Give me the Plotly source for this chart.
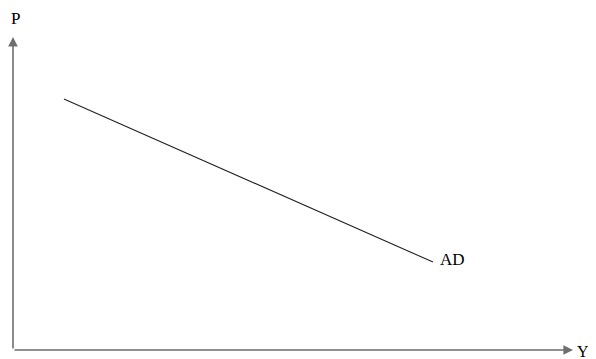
import plotly.graph_objects as go

# aggregate demand curve (output Y, price level P)
ad_y = [0.91, 7.5]
ad_p = [8.02, 2.81]
curve_label = "AD"
x_label = "Y"
y_label = "P"

serif = "Liberation Serif, Times New Roman, serif"
axis_col = "#6e6e6e"

fig = go.Figure()
fig.add_trace(go.Scatter(x=ad_y, y=ad_p, mode="lines",
                         line=dict(color="#222222", width=1.1),
                         hoverinfo="skip", showlegend=False))

# axes with arrowheads
fig.add_annotation(x=10, y=0, ax=0, ay=0, xref="x", yref="y", axref="x", ayref="y",
                   showarrow=True, arrowhead=2, arrowsize=1.2, arrowwidth=1.6,
                   arrowcolor=axis_col, text="")
fig.add_annotation(x=0, y=10, ax=0, ay=0, xref="x", yref="y", axref="x", ayref="y",
                   showarrow=True, arrowhead=2, arrowsize=1.2, arrowwidth=1.6,
                   arrowcolor=axis_col, text="")

fig.add_annotation(x=ad_y[-1], y=ad_p[-1], text=curve_label, showarrow=False,
                   xanchor="left", yanchor="middle", xshift=5, yshift=3,
                   font=dict(family=serif, size=17, color="black"))
fig.add_annotation(x=10, y=0, text=x_label, showarrow=False,
                   xanchor="left", yanchor="middle", xshift=2, yshift=-1,
                   font=dict(family=serif, size=16, color="black"))
fig.add_annotation(x=0, y=10, text=y_label, showarrow=False,
                   xanchor="center", yanchor="middle", xshift=2, yshift=19,
                   font=dict(family=serif, size=17, color="black"))

fig.update_xaxes(range=[0, 10], visible=False, fixedrange=True)
fig.update_yaxes(range=[0, 10], visible=False, fixedrange=True)
# page body has an 8px margin, so the figure is kept small enough not to overflow
fig.update_layout(width=588, height=351, margin=dict(l=5, r=23, t=29, b=9),
                  plot_bgcolor="white", paper_bgcolor="white")

fig.write_html("out.html", config={"displayModeBar": False})
